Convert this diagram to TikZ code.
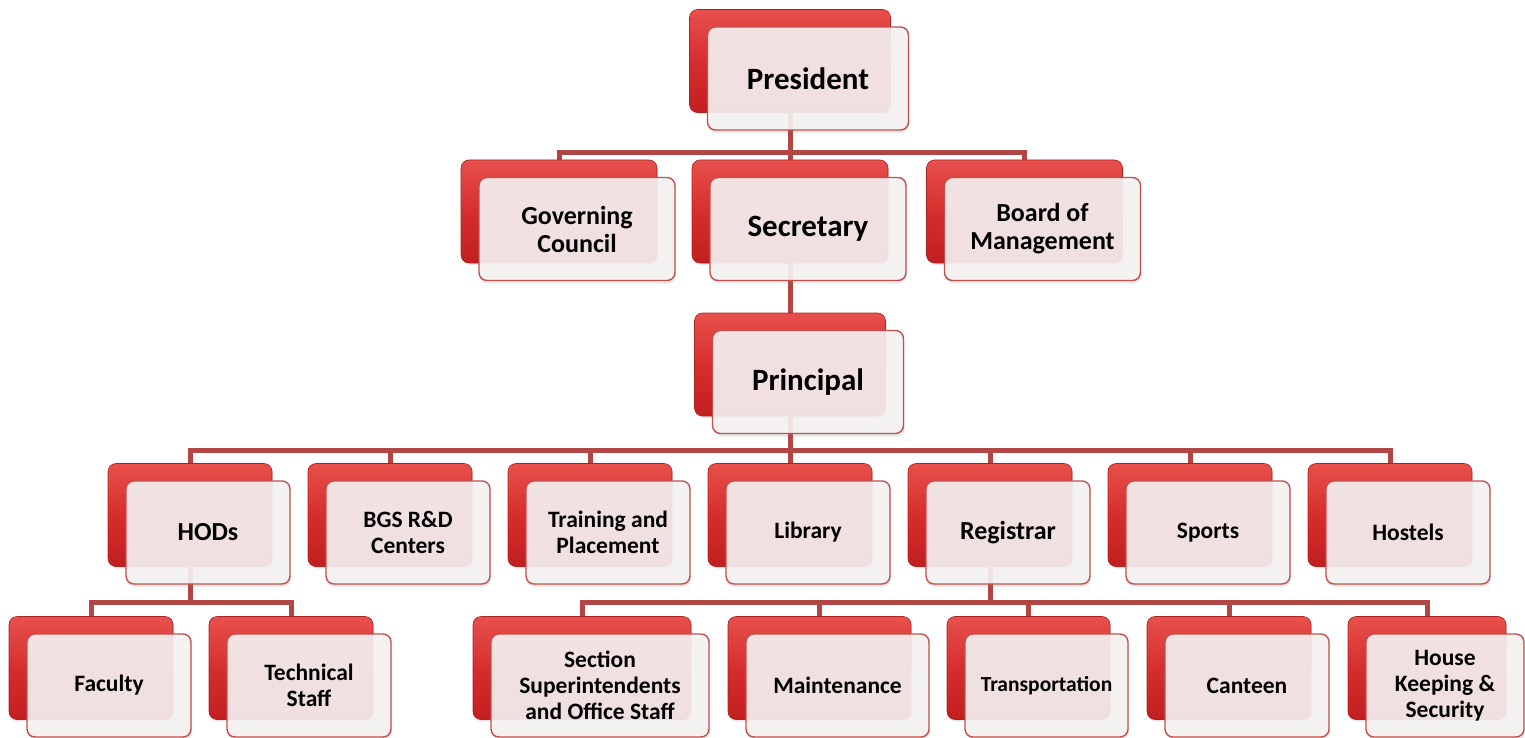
\documentclass[tikz,border=0pt]{standalone}
\usepackage{fontspec}
\setmainfont{Carlito}
\usepackage{xcolor}
\usepackage{tikz}
\usetikzlibrary{shadows}
\definecolor{boxtop}{RGB}{232,80,76}
\definecolor{boxmid}{RGB}{214,46,46}
\definecolor{boxbot}{RGB}{194,30,32}
\definecolor{boxedge}{RGB}{168,36,36}
\definecolor{cardfill}{RGB}{246,243,243}
\definecolor{cardedge}{RGB}{192,80,77}
\definecolor{linkcol}{RGB}{178,70,68}
\pgfdeclarelayer{links}
\pgfsetlayers{links,main}

\begin{document}
\begin{tikzpicture}[x=1pt,y=-1pt,
  redbox/.style={rounded corners=8pt, minimum width=#1, minimum height=103pt, inner sep=0pt,
    top color=boxtop, bottom color=boxbot, middle color=boxmid, draw=boxedge, line width=0.6pt,
    drop shadow={opacity=0.2, shadow xshift=1pt, shadow yshift=-2pt}},
  card/.style={rounded corners=8pt, minimum width=#1, minimum height=103pt, inner sep=0pt,
    fill=cardfill, fill opacity=0.9, text opacity=1, draw=cardedge, line width=1.4pt,
    align=center, font=\bfseries\fontsize{23.5}{26}\selectfont,
    drop shadow={opacity=0.18, shadow xshift=1pt, shadow yshift=-3pt}},
  big/.style={font=\bfseries\fontsize{31}{34}\selectfont},
  mid/.style={font=\bfseries\fontsize{26}{28}\selectfont},
  link/.style={draw=linkcol, line width=5pt}]
\useasboundingbox (0,0) rectangle (1525,738);

% top
\node [redbox=201pt] (presB) at (790,61) {};
\node [card=201pt, big] (pres) at (808,78.5) {President};

% second row
\node [redbox=196pt] (govB) at (559,211.5) {};
\node [card=196pt, mid] (gov) at (577,229) {Governing\\Council};
\node [redbox=196pt] (secB) at (790,211.5) {};
\node [card=196pt, big] (sec) at (808,229) {Secretary};
\node [redbox=196pt] (bomB) at (1024.5,211.5) {};
\node [card=196pt, mid] (bom) at (1042.5,229) {Board of\\Management};

% principal
\node [redbox=191pt] (prinB) at (790,364.5) {};
\node [card=191pt, big] (prin) at (808,382) {Principal};

% fourth row
\node [redbox=164pt] (hodB) at (190,515) {};
\node [card=164pt, mid] (hod) at (208,532.5) {HODs};
\node [redbox=164pt] (bgsB) at (390,515) {};
\node [card=164pt] (bgs) at (408,532.5) {BGS R\&D\\Centers};
\node [redbox=164pt] (trnB) at (590,515) {};
\node [card=164pt] (trn) at (608,532.5) {Training and\\Placement};
\node [redbox=164pt] (libB) at (790,515) {};
\node [card=164pt] (lib) at (808,532.5) {Library};
\node [redbox=164pt] (regB) at (990,515) {};
\node [card=164pt, mid] (reg) at (1008,532.5) {Registrar};
\node [redbox=164pt] (spoB) at (1190,515) {};
\node [card=164pt] (spo) at (1208,532.5) {Sports};
\node [redbox=164pt] (hosB) at (1390,515) {};
\node [card=164pt] (hos) at (1408,532.5) {Hostels};

% bottom row
\node [redbox=164pt] (facB) at (91,668) {};
\node [card=164pt] (fac) at (109,685.5) {Faculty};
\node [redbox=164pt] (tecB) at (291,668) {};
\node [card=164pt] (tec) at (309,685.5) {Technical\\Staff};
\node [redbox=218pt] (ssB) at (582,668) {};
\node [card=218pt] (ss) at (600,685.5) {Section\\Superintendents\\and Office Staff};
\node [redbox=183pt] (mntB) at (819.5,668) {};
\node [card=183pt] (mnt) at (837.5,685.5) {Maintenance};
\node [redbox=163pt] (trpB) at (1028.5,668) {};
\node [card=163pt, font=\bfseries\fontsize{21.5}{24}\selectfont] (trp) at (1046.5,685.5) {Transportation};
\node [redbox=164pt] (canB) at (1229,668) {};
\node [card=164pt] (can) at (1247,685.5) {Canteen};
\node [redbox=158pt] (hkB) at (1427,668) {};
\node [card=158pt] (hk) at (1445,685.5) {House\\Keeping \&\\Security};

\begin{pgfonlayer}{links}
\coordinate (bus1) at (790,153);
\coordinate (bus3) at (790,450);
\coordinate (bus4) at (190,602);
\coordinate (bus5) at (990,602);
\draw [link] (presB.south) -- (secB.north);
\draw [link] (govB.north) |- (bus1) -| (bomB.north);
\draw [link] (secB.south) -- (prinB.north);
\draw [link] (prinB.south) -- (libB.north);
\draw [link] (hodB.north) |- (bus3) -| (hosB.north);
\draw [link] (bgsB.north) -- (bgsB.north |- bus3);
\draw [link] (trnB.north) -- (trnB.north |- bus3);
\draw [link] (regB.north) -- (regB.north |- bus3);
\draw [link] (spoB.north) -- (spoB.north |- bus3);
\draw [link] (hodB.south) -- (bus4);
\draw [link] (facB.north) |- (bus4) -| (tecB.north);
\draw [link] (regB.south) -- (bus5);
\draw [link] (ssB.north) |- (bus5) -| (hkB.north);
\draw [link] (mntB.north) -- (mntB.north |- bus5);
\draw [link] (trpB.north) -- (trpB.north |- bus5);
\draw [link] (canB.north) -- (canB.north |- bus5);
\end{pgfonlayer}

\end{tikzpicture}
\end{document}
